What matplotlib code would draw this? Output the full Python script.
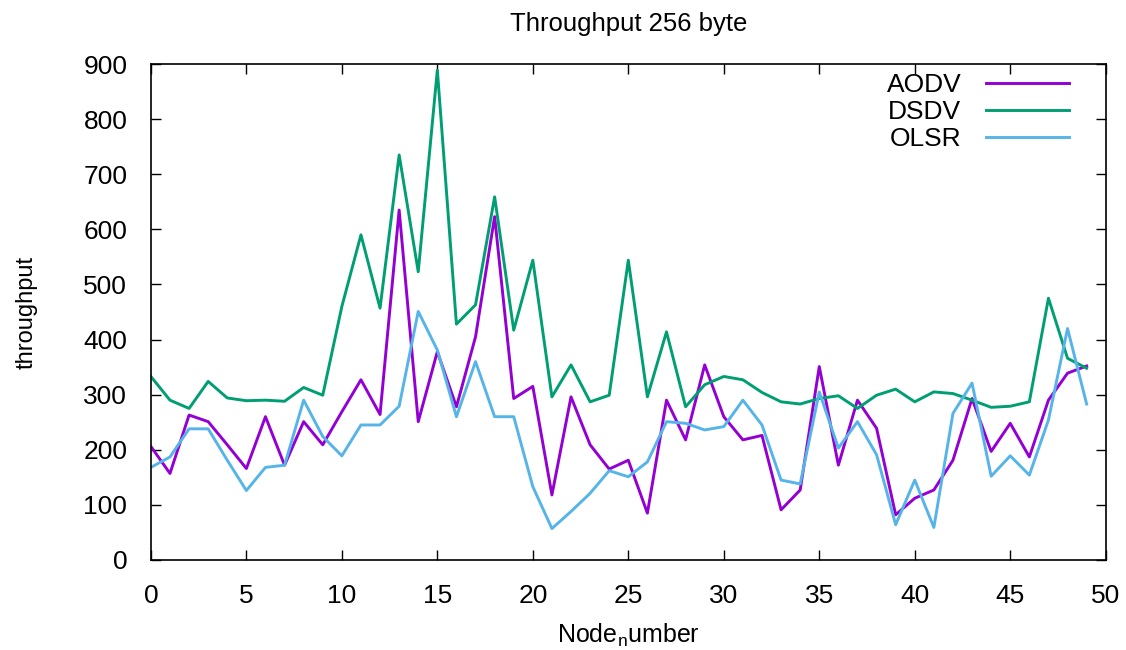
import matplotlib
matplotlib.use("Agg")
import matplotlib.pyplot as plt

plt.rcParams['font.family'] = ['Liberation Sans', 'DejaVu Sans']
plt.rcParams['mathtext.fontset'] = 'custom'
plt.rcParams['mathtext.rm'] = 'Liberation Sans'

# node numbers 0..49
nodes = list(range(50))

aodv = [206, 157, 263, 251, 209, 166, 260, 172, 251, 209,
        269, 327, 264, 635, 251, 378, 278, 405, 623, 293,
        315, 118, 296, 209, 165, 181, 85, 290, 218, 354,
        260, 218, 226, 91, 127, 351, 172, 290, 239, 82,
        112, 127, 181, 293, 197, 248, 187, 290, 339, 352]

dsdv = [333, 290, 275, 324, 294, 289, 290, 288, 313, 299,
        460, 590, 457, 735, 523, 889, 428, 463, 659, 417,
        544, 296, 354, 287, 299, 544, 296, 414, 278, 318,
        333, 327, 304, 287, 283, 293, 298, 275, 299, 310,
        287, 305, 302, 290, 277, 279, 287, 475, 366, 348]

olsr = [168, 187, 238, 238, 181, 126, 168, 172, 290, 224,
        189, 245, 245, 279, 451, 381, 260, 360, 260, 260,
        133, 57, 88, 121, 162, 151, 178, 251, 248, 236,
        242, 290, 245, 145, 138, 305, 203, 251, 191, 64,
        145, 59, 266, 321, 152, 189, 154, 254, 420, 283]

fig = plt.figure(figsize=(11.26, 6.5), dpi=100)
ax = fig.add_axes([0.134, 0.1385, 0.848, 0.763])

ax.plot(nodes, aodv, color='#9400D3', lw=2.1, label='AODV')
ax.plot(nodes, dsdv, color='#009E73', lw=2.1, label='DSDV')
ax.plot(nodes, olsr, color='#56B4E9', lw=2.1, label='OLSR')

ax.set_xlim(0, 50)
ax.set_ylim(0, 900)
ax.set_xticks(range(0, 51, 5))
ax.set_yticks(range(0, 901, 100))
ax.tick_params(direction='in', length=7, width=1, top=True, right=True,
               labelsize=19, colors='black', pad=17)
for s in ax.spines.values():
    s.set_linewidth(1.2)

ax.set_title('Throughput 256 byte', fontsize=18.5, pad=24)
ax.set_xlabel(r'Node$_\mathrm{n}$umber', fontsize=18, labelpad=10)
ax.set_ylabel('throughput', fontsize=17, labelpad=33)

ax.legend(loc='upper right', frameon=False, markerfirst=False, fontsize=19,
          handlelength=3.15, handletextpad=0.95, labelspacing=0.12,
          borderpad=0, borderaxespad=0, bbox_to_anchor=(0.962, 0.982))

fig.savefig('out.png', dpi=100)
